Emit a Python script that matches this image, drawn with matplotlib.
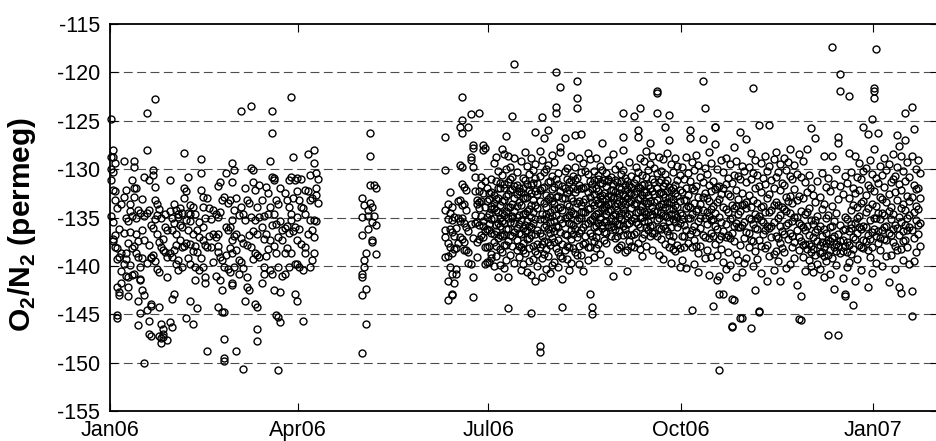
import numpy as np
import pandas as pd
import matplotlib
matplotlib.use('Agg')
import matplotlib.pyplot as plt
import matplotlib.dates as mdates

# O2/N2 (per meg), grouped by day.
# Each inner list holds the values of one day; index 0 = first day of the list.
o2n2_jan06 = [
    [-124.8, -128.7, -131.1, -134.8, -130.0], [-128.0, -128.7, -130.3, -132.2, -137.2, -137.4, -135.5],
    [-129.4, -132.3, -133.2, -138.0, -136.8], [-138.2, -139.3, -142.2, -145.1, -145.4, -134.0],
    [-139.1, -142.7, -143.0, -136.2], [-138.7, -133.6, -140.5, -141.8], [-129.2, -132.9, -139.8, -136.6],
    [-132.2, -138.7, -139.3, -135.0, -141.0], [-142.2, -143.1, -141.2, -135.4, -137.6],
    [-136.5, -134.3, -133.6, -139.9], [-131.1, -138.2, -134.8, -140.9],
    [-129.2, -132.0, -137.9, -140.8, -132.9, -129.8], [-136.7, -138.7, -131.9, -135.1],
    [-137.4, -139.1, -143.6, -146.1, -134.2], [-141.4, -141.5, -140.1, -144.9, -134.5],
    [-136.3, -139.2, -142.5, -133.1], [-130.8, -150.0, -143.0, -137.3, -134.8],
    [-134.5, -128.0, -144.6, -124.2, -139.7], [-131.1, -147.0, -145.7, -134.2, -137.8],
    [-139.2, -143.9, -147.2, -139.1, -144.1, -135.8], [-130.6, -136.1, -130.1, -138.9],
    [-122.8, -131.8, -133.2, -135.2, -139.5], [-133.6, -136.7, -140.3, -134.7],
    [-137.5, -144.2, -147.2, -134.1, -140.6], [-138.0, -146.0, -147.5, -148.0, -135.0],
    [-137.2, -146.5, -147.4, -138.4, -147.0], [-136.0, -134.6, -138.6], [-139.1, -141.1, -147.7, -136.3],
    [-131.1, -138.7, -145.8, -134.3], [-136.3, -139.1, -146.3, -143.4, -135.0],
    [-133.6, -135.6, -142.9, -138.4],
]
o2n2_feb06 = [
    [-134.2, -136.7, -139.8, -137.8], [-134.6, -140.4, -134.9, -139.4], [-137.3, -134.0, -135.8],
    [-136.0, -140.1, -134.5, -138.1], [-137.9, -132.0, -128.3, -133.0], [-132.3, -135.3, -145.4, -137.6],
    [-130.8, -136.3, -139.2, -134.5], [-133.7, -134.6, -137.7, -135.4, -139.8, -143.6],
    [-133.9, -136.7, -146.0, -138.5], [-134.6, -137.9, -140.1, -141.5], [-136.3, -138.6, -144.4],
    [-140.4, -135.5, -137.0], [-129.0, -130.4, -132.2, -139.2], [-137.3, -132.9, -140.1, -133.9, -136.0],
    [-141.1, -141.8, -135.0, -137.8], [-148.8, -133.0, -138.0], [-134.0, -136.9], [-138.0, -135.2],
    [-134.2, -139.6, -136.7], [-134.6, -137.0, -141.0],
    [-131.7, -134.9, -136.7, -137.9, -138.6, -144.2], [-131.3, -139.1, -141.5, -134.4],
    [-133.2, -139.4, -142.5, -144.8], [-132.9, -140.1, -147.6, -149.5, -149.8, -144.8],
    [-136.0, -130.4, -138.9], [-136.3, -133.5, -140.3], [-133.2, -136.0, -138.2, -140.6],
    [-131.3, -135.3, -138.7, -141.8, -129.4, -137.3, -142.0],
]
o2n2_mar06 = [
    [-130.1, -134.2, -140.1, -136.9], [-136.7, -148.8, -133.0, -138.4], [-139.4, -140.8, -134.7],
    [-124.0, -139.6, -133.9, -137.1], [-150.7, -134.6, -137.6, -140.2], [-135.3, -143.6, -131.9],
    [-133.2, -141.1, -142.2, -137.8], [-136.8, -142.5, -133.5], [-123.5, -129.9, -134.9, -138.0],
    [-131.3, -130.1, -136.4, -139.3], [-132.2, -138.7, -135.3, -143.9],
    [-136.7, -138.9, -146.5, -147.8, -144.2, -133.9], [-139.1, -134.9, -131.6], [-136.0, -141.8, -133.2],
    [-140.1, -140.8, -134.8, -137.2], [-131.8, -136.7, -139.0], [-132.5, -134.6, -138.3],
    [-133.9, -137.3, -129.2, -140.4], [-130.8, -140.8, -124.0, -126.3, -135.8],
    [-130.9, -134.6, -131.1, -142.5, -137.9], [-133.2, -138.7, -145.1, -135.7],
    [-133.6, -137.0, -140.1, -145.3, -150.8], [-142.7, -135.4, -145.8, -132.0],
    [-136.3, -137.3, -141.0], [-136.1, -132.5, -138.7, -140.8], [-133.2, -135.9, -138.2],
    [-133.9, -131.1, -140.1, -136.6], [-134.6, -122.5, -135.3, -130.8, -138.7],
    [-128.7, -133.0, -136.4], [-131.1, -136.0, -139.8, -142.9], [-130.9, -134.9, -132.3, -137.3, -143.6, -139.8],
]
o2n2_apr06 = [
    [-133.2, -140.1, -136.2], [-133.9, -137.7, -131.0], [-140.4, -145.7, -134.0],
    [-138.0, -132.2, -134.6, -138.7], [-128.4, -132.3, -136.7], [-133.2, -135.3, -140.1, -130.6],
    [-136.3, -139.4, -133.0], [-128.0, -129.4, -135.3, -137.0, -138.7],
    [-130.4, -132.0, -132.7, -135.4], [-131.0, -133.5],
]
o2n2_may06 = [
    [-133.0, -134.9, -136.8, -140.8, -141.1, -143.0, -149.0], [-133.7, -139.4, -140.1],
    [-138.7, -142.4, -146.0], [-134.2, -134.8, -136.2], [-126.3, -128.6, -131.6, -133.5],
    [-133.9, -135.5, -137.3, -137.5], [-131.6, -134.8], [-132.0, -135.8, -138.8],
]
o2n2_jun06 = [  # from 10 June
    [-126.7, -130.1, -134.2, -137.0, -139.1, -136.3], [-133.6, -135.2, -141.6, -143.5, -137.6, -139.0],
    [-132.4, -134.5, -138.0, -140.1, -136.2], [-133.9, -136.5, -138.7, -140.8, -142.9, -143.0, -135.3],
    [-134.9, -138.3, -141.8, -136.9], [-136.1, -140.3, -140.8, -138.2], [-135.1, -133.3, -137.6],
    [-125.6, -129.6, -133.2, -137.0, -135.4], [-122.5, -124.9, -126.3, -129.8, -131.5, -133.7, -137.2, -135.0],
    [-131.8, -133.6, -137.5, -138.4, -135.6], [-134.2, -138.4, -136.0, -132.2], [-125.6, -138.6, -139.7, -136.4],
    [-124.3, -128.7, -129.1, -139.8, -135.7], [-127.5, -127.8, -129.8, -141.1, -143.2, -137.1],
    [-130.8, -135.6, -134.7, -132.3], [-133.2, -133.6, -135.5, -139.1, -137.5],
    [-124.2, -133.4, -135.8, -137.2, -132.3, -134.0], [-130.8, -131.6, -134.8, -136.8, -133.3],
    [-127.5, -128.0, -132.5, -137.0, -135.4, -135.9], [-127.8, -131.2, -133.9, -139.8, -138.0, -136.4],
    [-133.3, -134.9, -136.2, -138.1, -139.6, -132.0],
]
o2n2_jul06 = [
    [-132.5, -134.6, -136.3, -137.9, -139.6, -133.1, -135.7],
    [-131.0, -133.8, -135.2, -138.8, -139.2, -132.4, -136.6, -134.1],
    [-129.4, -132.7, -134.0, -136.7, -137.5, -140.0, -133.5, -135.1],
    [-128.7, -133.1, -135.8, -136.4, -139.0, -131.2, -134.2, -137.9],
    [-130.2, -131.9, -134.4, -137.1, -141.2, -133.0, -135.6],
    [-132.0, -135.1, -135.9, -138.3, -139.9, -133.7, -136.8, -131.4],
    [-127.9, -130.6, -133.3, -136.9, -138.6, -134.5, -135.4],
    [-128.4, -131.5, -134.7, -135.6, -137.8, -140.2, -133.2, -136.7, -132.0],
    [-126.6, -130.0, -132.8, -136.2, -139.4, -134.3, -137.8],
    [-128.6, -131.3, -133.9, -137.4, -141.2, -144.4, -135.0, -132.6, -136.2],
    [-129.8, -132.2, -135.5, -136.8, -138.9, -133.9, -131.0],
    [-124.5, -130.8, -133.6, -135.0, -137.9, -132.1, -134.8, -136.9],
    [-119.1, -128.9, -131.7, -134.3, -136.5, -139.7, -133.0, -135.6],
    [-130.3, -132.6, -134.9, -137.3, -138.4, -131.6, -136.1, -133.8],
    [-131.9, -133.4, -135.7, -136.6, -139.1, -132.3, -134.7, -137.9],
    [-129.2, -132.4, -135.3, -138.0, -140.4, -133.7, -136.7],
    [-130.9, -133.0, -136.1, -137.6, -139.8, -134.6, -131.9, -138.4],
    [-128.2, -131.1, -134.5, -136.4, -138.7, -133.0, -135.8],
    [-129.7, -132.9, -135.4, -137.2, -140.6, -131.5, -134.3, -136.3],
    [-130.5, -134.1, -135.9, -138.2, -139.5, -132.2, -137.1],
    [-128.8, -131.6, -133.7, -136.0, -140.9, -144.9, -134.9, -136.8, -132.5],
    [-130.1, -133.2, -135.6, -137.9, -139.3, -131.4, -134.4],
    [-126.2, -129.5, -132.3, -136.7, -138.5, -141.6, -133.7, -135.2, -130.9],
    [-131.4, -134.0, -136.3, -137.7, -140.0, -132.6, -138.8],
    [-128.1, -130.7, -135.2, -138.1, -148.3, -148.9, -133.3, -136.6, -132.2],
    [-124.6, -129.1, -134.6, -136.9, -139.2, -141.1, -132.0, -137.7],
    [-126.8, -131.8, -133.5, -137.4, -138.8, -135.2, -136.0, -130.3],
    [-130.0, -132.7, -135.8, -138.3, -140.3, -133.9, -134.6],
    [-126.0, -129.6, -133.1, -136.2, -139.0, -131.3, -134.9, -137.5],
    [-131.2, -134.4, -136.6, -137.8, -140.7, -132.9, -135.5],
    [-128.5, -132.1, -134.8, -137.1, -139.9, -133.3, -136.1, -130.7],
]
o2n2_aug06 = [
    [-129.3, -133.6, -135.4, -137.5, -139.6, -131.8, -134.1, -136.4],
    [-120.0, -123.6, -124.2, -131.0, -134.7, -138.2, -132.9, -135.9],
    [-130.4, -132.8, -136.0, -137.3, -140.1, -134.0, -138.6, -131.5],
    [-121.5, -127.7, -128.2, -133.9, -136.5, -139.0, -132.3, -135.2],
    [-131.7, -134.2, -137.7, -141.4, -144.3, -133.0, -135.6, -139.2],
    [-126.8, -130.2, -133.0, -135.1, -138.4, -132.0, -136.7],
    [-129.9, -132.5, -134.9, -136.8, -139.3, -133.6, -131.0, -137.9],
    [-131.3, -133.8, -135.6, -138.0, -140.4, -132.2, -134.7],
    [-128.6, -131.1, -134.3, -137.2, -139.7, -133.0, -135.7, -136.3],
    [-130.7, -133.3, -135.8, -136.7, -131.9, -134.5, -138.2],
    [-126.5, -129.8, -132.4, -134.6, -138.6, -131.1, -136.2],
    [-120.9, -122.6, -123.7, -130.9, -133.5, -137.0, -132.1, -135.3, -138.9],
    [-128.9, -131.6, -135.0, -137.9, -139.8, -133.3, -136.6],
    [-126.4, -130.3, -133.7, -136.3, -138.9, -132.0, -135.1, -134.4],
    [-129.4, -132.0, -134.4, -136.0, -140.5, -133.4, -137.7],
    [-131.8, -133.1, -135.7, -137.6, -134.4, -136.9, -130.2],
    [-128.3, -130.5, -134.1, -138.1, -139.4, -132.4, -135.6],
    [-129.0, -132.9, -135.3, -136.6, -142.9, -131.2, -134.0, -138.0],
    [-131.5, -133.4, -136.9, -144.2, -145.0, -132.1, -135.2],
    [-130.2, -132.6, -134.8, -137.4, -139.1, -131.1, -133.7, -136.0],
    [-128.8, -131.9, -133.2, -135.9, -138.2, -134.6, -137.0],
    [-130.6, -132.3, -134.5, -136.4, -137.7, -131.0, -133.5, -135.6],
    [-129.7, -131.4, -133.6, -135.2, -138.8, -132.8, -134.9],
    [-127.3, -130.1, -132.7, -134.0, -136.1, -131.4, -135.8, -133.1],
    [-131.1, -132.5, -133.9, -135.5, -137.3, -134.2, -136.5],
    [-130.4, -131.7, -133.1, -134.6, -136.6, -133.8, -135.4, -137.6],
    [-129.1, -131.2, -132.8, -134.3, -135.8, -139.5, -133.6, -131.0],
    [-130.8, -132.2, -133.5, -135.1, -136.9, -134.2, -136.0, -132.8],
    [-128.4, -131.5, -133.0, -134.7, -141.0, -132.2, -135.9],
    [-130.0, -132.4, -133.8, -135.4, -137.1, -131.1, -134.6, -136.2],
    [-131.3, -132.9, -134.2, -135.7, -138.3, -133.5, -136.9],
]
o2n2_sep06 = [
    [-129.6, -131.8, -133.3, -134.9, -136.4, -132.5, -135.7, -138.1],
    [-130.5, -132.1, -133.7, -135.2, -137.8, -131.2, -134.5],
    [-124.2, -126.7, -128.0, -132.6, -134.1, -135.9, -133.3, -136.8, -130.1],
    [-130.9, -132.8, -134.5, -136.2, -138.6, -131.6, -133.6],
    [-131.2, -133.0, -134.8, -136.7, -140.5, -132.1, -135.7, -138.4],
    [-129.3, -131.6, -133.4, -135.6, -137.4, -132.5, -134.6],
    [-130.7, -132.5, -134.0, -135.3, -136.8, -131.8, -133.3, -137.9],
    [-124.5, -131.4, -133.6, -135.0, -138.0, -132.6, -136.7],
    [-129.8, -132.3, -134.4, -136.5, -131.0, -133.5, -135.5],
    [-126.0, -126.7, -130.3, -133.1, -135.7, -137.6, -131.8, -134.4],
    [-123.7, -128.9, -131.9, -134.2, -136.0, -133.0, -135.1, -138.3],
    [-130.6, -132.7, -134.9, -137.1, -139.0, -131.6, -133.8],
    [-129.2, -131.5, -133.3, -135.4, -132.4, -134.3, -136.7],
    [-128.1, -130.8, -132.4, -134.6, -137.9, -133.5, -136.0],
    [-130.1, -133.5, -135.5, -136.3, -131.6, -132.7, -134.4],
    [-127.3, -129.5, -132.0, -134.7, -136.9, -133.3, -135.9],
    [-128.6, -131.0, -133.9, -135.8, -138.4, -132.3, -134.6, -136.6],
    [-129.9, -132.6, -134.3, -136.6, -131.3, -133.4],
    [-121.9, -122.1, -124.2, -130.4, -133.2, -135.3, -132.0, -134.3, -136.9],
    [-128.7, -131.3, -133.8, -136.1, -138.9, -132.5, -135.0],
    [-130.2, -132.4, -134.5, -137.2, -131.1, -133.6, -136.2],
    [-129.0, -131.7, -133.6, -135.9, -139.3, -132.6, -134.7],
    [-125.6, -130.5, -132.9, -134.8, -137.7, -131.4, -133.9, -136.1],
    [-128.3, -131.1, -133.4, -136.4, -132.3, -134.9],
    [-124.4, -127.0, -131.8, -134.1, -136.8, -133.0, -135.4, -138.0],
    [-129.5, -132.2, -134.6, -137.4, -139.7, -133.4, -136.0],
    [-130.3, -133.1, -135.2, -136.9, -131.9, -134.1, -138.3],
    [-128.9, -131.6, -133.7, -135.5, -138.5, -132.5, -134.6],
    [-129.7, -132.8, -134.9, -137.8, -131.1, -133.9, -136.0],
    [-130.6, -133.3, -135.6, -138.2, -140.1, -132.2, -134.5],
]
o2n2_oct06 = [
    [-129.8, -132.4, -134.7, -136.9, -139.4, -135.2], [-131.0, -133.2, -135.8, -138.1, -136.9],
    [-128.7, -131.9, -134.0, -136.3, -140.2, -133.2], [-130.4, -132.7, -135.1, -137.6, -133.8],
    [-126.0, -126.8, -131.2, -133.9, -136.7, -135.0], [-129.3, -132.0, -134.6, -138.0, -144.6, -136.3],
    [-130.1, -133.5, -135.9, -137.3, -139.8, -132.2], [-128.5, -131.7, -134.3, -136.5, -137.9],
    [-129.6, -132.9, -135.4, -138.7, -140.6, -134.1], [-130.8, -133.6, -136.1, -137.9, -135.0],
    [-120.9, -126.9, -131.3, -134.2, -136.8, -132.9], [-123.7, -129.9, -132.5, -135.0, -139.2, -137.0],
    [-130.5, -133.0, -135.7, -138.4, -134.4], [-128.2, -131.6, -134.8, -137.1, -140.9, -133.3],
    [-129.4, -132.3, -135.3, -136.6, -139.1, -134.1], [-131.2, -133.8, -136.9, -144.1, -135.2],
    [-125.6, -125.6, -127.4, -132.1, -134.5, -137.7, -135.9], [-130.0, -133.4, -136.2, -138.9, -141.5, -131.8],
    [-131.7, -134.9, -137.2, -141.0, -142.9, -150.8, -133.1], [-129.1, -132.6, -135.5, -138.3, -136.9],
    [-130.3, -133.9, -136.4, -139.6, -142.9, -132.0], [-128.8, -131.5, -134.1, -137.0, -140.3, -135.7],
    [-130.9, -134.4, -136.8, -138.6, -132.6], [-129.5, -132.8, -135.2, -139.9, -137.1],
    [-131.4, -133.7, -136.6, -143.4, -146.2, -146.3, -135.0], [-127.7, -130.6, -134.0, -137.4, -143.5, -135.9],
    [-129.2, -132.2, -135.6, -138.8, -141.2, -133.8], [-130.7, -133.1, -136.0, -139.4, -134.6],
    [-126.2, -131.0, -134.3, -137.8, -145.4, -136.0], [-129.7, -132.5, -135.8, -140.6, -145.4, -133.7],
    [-130.2, -133.6, -137.1, -139.7, -135.5],
]
o2n2_nov06 = [
    [-126.9, -131.3, -134.0, -136.5, -139.2, -133.4], [-129.8, -132.7, -135.1, -138.0, -136.6],
    [-128.3, -131.0, -133.9, -137.3, -146.4, -135.2], [-121.6, -130.4, -133.2, -135.7, -140.0, -137.4],
    [-129.1, -132.0, -134.6, -138.5, -142.5, -136.1], [-130.6, -133.5, -136.2, -139.3, -135.0],
    [-125.4, -131.7, -134.8, -144.7, -144.8, -137.3], [-129.4, -132.4, -135.3, -137.9, -140.7, -133.9],
    [-130.9, -133.8, -136.7, -135.5], [-128.6, -131.5, -134.4, -138.2, -136.3],
    [-130.2, -133.0, -135.9, -141.6, -137.8], [-125.4, -129.7, -132.6, -136.1, -139.0, -134.4],
    [-131.1, -134.2, -137.0, -135.9], [-129.0, -131.9, -135.5, -138.8, -140.4, -133.7],
    [-128.2, -130.8, -133.4, -136.9, -138.5], [-130.3, -133.7, -135.0, -139.5, -137.1],
    [-129.5, -132.2, -134.7, -137.6, -141.6, -135.9], [-131.4, -133.9, -136.4, -138.2],
    [-128.9, -131.6, -134.1, -138.6, -136.7], [-130.1, -132.9, -135.8, -140.2, -134.3],
    [-129.3, -133.3, -137.2, -135.6], [-127.9, -130.7, -134.5, -136.6, -139.8, -132.8],
    [-131.0, -133.5, -135.4, -138.1, -136.9], [-129.6, -132.1, -134.9, -137.5, -139.2],
    [-130.5, -133.2, -136.3, -142.0, -134.9], [-128.4, -132.8, -135.6, -138.4, -145.5, -137.0],
    [-130.8, -134.3, -137.4, -143.1, -145.6, -135.8], [-129.2, -133.0, -136.0, -139.1, -137.8],
    [-131.3, -134.6, -137.7, -140.5, -136.3], [-127.9, -132.4, -135.9, -138.3, -134.4],
]
o2n2_dec06 = [
    [-130.6, -134.0, -136.8, -139.4, -137.7], [-125.8, -131.9, -135.3, -137.9, -140.0, -138.6],
    [-132.7, -135.7, -138.3, -140.6, -137.0], [-126.8, -133.4, -136.5, -138.9, -135.3],
    [-131.2, -134.8, -137.4, -139.8, -136.2], [-132.9, -135.9, -137.8, -140.3, -138.7],
    [-130.4, -134.1, -136.9, -138.6, -137.5], [-128.6, -133.6, -136.2, -138.1, -141.1, -139.0],
    [-131.8, -135.1, -137.6, -139.5, -136.6], [-130.9, -134.7, -137.3, -147.1, -138.9],
    [-132.3, -136.0, -138.4, -140.8, -137.4], [-117.4, -128.6, -133.8, -137.1, -139.2, -135.9],
    [-131.5, -135.4, -138.0, -142.4, -136.9], [-130.0, -134.5, -137.7, -139.9, -138.5],
    [-126.7, -127.3, -133.1, -136.7, -147.1, -137.9], [-120.2, -121.9, -131.7, -135.8, -138.7, -137.4],
    [-132.6, -136.3, -138.5, -141.3, -137.3], [-130.7, -134.9, -137.9, -142.9, -143.1, -136.2],
    [-131.4, -135.2, -137.5, -140.1, -138.6], [-122.4, -128.3, -133.0, -136.4, -139.6, -137.8],
    [-130.3, -134.2, -136.1, -138.8, -135.7], [-131.9, -133.7, -137.0, -144.0, -138.3],
    [-128.6, -132.5, -135.6, -141.6, -137.2], [-130.8, -133.9, -136.6, -139.3, -135.1],
    [-129.4, -132.2, -134.8, -137.8, -136.0], [-131.0, -133.5, -136.2, -140.4, -138.1],
    [-125.6, -130.2, -133.3, -135.9, -138.2, -137.3], [-129.9, -132.7, -134.4, -137.4, -136.0],
    [-126.4, -131.6, -134.0, -136.8, -142.2, -138.4], [-129.1, -132.0, -135.3, -139.1, -137.2],
    [-124.8, -130.5, -133.6, -136.5, -140.7, -138.1],
]
o2n2_jan07 = [
    [-121.6, -121.9, -122.7, -127.9, -132.3, -135.0, -136.2], [-117.6, -130.9, -133.8, -136.9, -139.7, -135.0],
    [-126.3, -131.4, -134.5, -137.6, -136.4], [-129.7, -132.9, -135.2, -138.4, -137.1],
    [-130.6, -133.1, -136.3, -140.0, -134.5], [-128.8, -131.8, -134.7, -137.2, -136.0],
    [-130.1, -133.4, -135.9, -139.0, -137.3], [-129.5, -132.6, -134.3, -141.7, -136.6],
    [-131.3, -133.9, -136.8, -138.9, -135.2], [-128.4, -131.0, -134.6, -137.5, -136.2],
    [-130.7, -132.4, -135.8, -140.3, -137.9], [-126.5, -129.8, -133.2, -136.1, -138.4],
    [-127.6, -131.5, -134.9, -142.2, -136.8], [-128.6, -132.2, -135.5, -138.3, -142.8, -134.0],
    [-130.2, -133.6, -136.4, -139.4, -137.4], [-124.2, -127.0, -131.2, -134.2, -137.3, -135.8],
    [-129.3, -132.8, -135.1, -138.0, -136.3], [-130.8, -133.3, -136.0, -139.8, -134.7],
    [-123.6, -128.6, -132.9, -142.6, -145.2, -136.3], [-125.9, -131.6, -134.4, -137.1, -139.5],
    [-130.0, -132.1, -135.3, -138.6, -133.8], [-129.1, -131.9, -134.1, -136.7, -135.8],
    [-130.4, -133.0, -135.6, -137.9],
]

first_days = ['2006-01-01', '2006-02-01', '2006-03-01', '2006-04-01', '2006-05-01',
              '2006-06-10', '2006-07-01', '2006-08-01', '2006-09-01', '2006-10-01',
              '2006-11-01', '2006-12-01', '2007-01-01']
daily = [o2n2_jan06, o2n2_feb06, o2n2_mar06, o2n2_apr06, o2n2_may06, o2n2_jun06,
         o2n2_jul06, o2n2_aug06, o2n2_sep06, o2n2_oct06, o2n2_nov06, o2n2_dec06, o2n2_jan07]

yticks = list(range(-155, -114, 5))
xtick_dates = ['2006-01-01', '2006-04-01', '2006-07-01', '2006-10-01', '2007-01-01']

# --- flatten into time / value columns ---
times, vals = [], []
for start, days in zip(first_days, daily):
    t0 = pd.Timestamp(start)
    for i, day_vals in enumerate(days):
        for v in day_vals:
            times.append(t0 + pd.Timedelta(days=i, hours=12))
            vals.append(v)
df = pd.DataFrame({'Time': times, 'O2N2': vals})

plt.rcParams['font.family'] = ['Liberation Sans', 'DejaVu Sans']
plt.rcParams['mathtext.fontset'] = 'custom'
plt.rcParams['mathtext.rm'] = 'Liberation Sans'
plt.rcParams['mathtext.bf'] = 'Liberation Sans:bold'
plt.rcParams['axes.unicode_minus'] = False

fig = plt.figure(figsize=(9.37, 4.41), dpi=100)
ax = fig.add_axes([0.1174, 0.068, 0.8833, 0.8776])

for y in yticks[1:-1]:
    ax.axhline(y, color='0.3', lw=0.8, ls=(0, (8, 4)), zorder=0)

ax.plot(df['Time'], df['O2N2'], 'o', ls='none', mfc='none', mec='k',
        ms=5.0, mew=1.0, clip_on=False, zorder=2)

ax.set_ylim(-155, -115)
ax.set_yticks(yticks)
ax.set_xlim(pd.Timestamp('2006-01-01'), pd.Timestamp('2007-02-01'))
ax.set_xticks(pd.to_datetime(xtick_dates))
ax.xaxis.set_major_formatter(mdates.DateFormatter('%b%y'))

ax.tick_params(direction='in', length=6, width=0.8, top=True, right=True, labelsize=15.5)
ax.tick_params(axis='y', pad=7)
ax.tick_params(axis='x', pad=6.5)
for s in ax.spines.values():
    s.set_linewidth(1.3)

ax.set_ylabel(r'O$_\mathbf{2}$/N$_\mathbf{2}$ (permeg)', fontsize=21.5, fontweight='bold')
ax.yaxis.set_label_coords(-0.087, 0.483)

plt.savefig('out.png', dpi=100)
